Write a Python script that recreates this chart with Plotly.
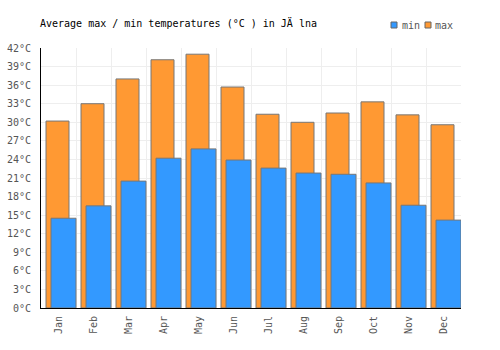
import plotly.graph_objects as go

months = ["Jan", "Feb", "Mar", "Apr", "May", "Jun", "Jul", "Aug", "Sep", "Oct", "Nov", "Dec"]
t_max = [30.2, 33.0, 37.0, 40.1, 41.0, 35.7, 31.3, 30.0, 31.5, 33.3, 31.2, 29.6]
t_min = [14.5, 16.5, 20.5, 24.2, 25.7, 23.9, 22.6, 21.8, 21.6, 20.2, 16.6, 14.2]
y_ticks = list(range(0, 43, 3))
series_names = ["min", "max"]
series_colors = ["#3399ff", "#ff9933"]

FONT = "DejaVu Sans Mono"
W, H = 500, 350
L, R, T, B = 41, 39, 48, 42
xs = list(range(len(months)))

fig = go.Figure()
fig.add_trace(go.Bar(
    x=xs, y=t_max, name=series_names[1], width=0.657, offset=-0.357,
    marker=dict(color=series_colors[1], line=dict(color="#777777", width=1)),
))
fig.add_trace(go.Bar(
    x=xs, y=t_min, name=series_names[0], width=0.714, offset=-0.214,
    marker=dict(color=series_colors[0], line=dict(color="#777777", width=1)),
))

# custom legend (paper coordinates)
pw, ph = W - L - R, H - T - B
def px_x(p):
    return (p - L) / pw
def px_y(p):
    return (H - B - p) / ph

legend_items = [(391, 400), (425, 433)]
shapes = []
annotations = []
for (sx, tx), name, col in zip(legend_items, series_names, series_colors):
    shapes.append(dict(type="rect", xref="paper", yref="paper",
                       x0=px_x(sx), x1=px_x(sx + 6), y0=px_y(28), y1=px_y(22),
                       fillcolor=col, line=dict(color="#666666", width=1)))
    annotations.append(dict(text=name, xref="paper", yref="paper",
                            x=px_x(tx), y=px_y(25), xanchor="left", yanchor="middle",
                            showarrow=False,
                            font=dict(family=FONT, size=10, color="#555555")))

fig.update_layout(
    width=W, height=H,
    margin=dict(l=L, r=R, t=T, b=B, autoexpand=False),
    paper_bgcolor="white", plot_bgcolor="white",
    barmode="overlay",
    showlegend=False,
    font=dict(family=FONT, size=10, color="#555555"),
    title=dict(text="Average max / min temperatures (°C ) in JÄ lna",
               x=40/W, xanchor="left", y=1-23/H, yanchor="middle",
               font=dict(family=FONT, size=10, color="#000000")),
    shapes=shapes,
    annotations=annotations,
)
fig.update_xaxes(
    range=[-0.5, 11.5], tickvals=xs, ticktext=months, tickangle=-90,
    showgrid=False, showline=True, linecolor="#000000", linewidth=1,
    ticks="outside", ticklen=3, tickcolor="rgba(0,0,0,0)",
    zeroline=False, automargin=False,
    minor=dict(tickvals=[i + 0.5 for i in xs], showgrid=True, gridcolor="#eeeeee", gridwidth=1),
    tickfont=dict(family=FONT, size=10, color="#555555"),
)
fig.update_yaxes(
    range=[0, 42], tickvals=y_ticks, ticktext=[f"{v}°C" for v in y_ticks],
    showgrid=True, gridcolor="#eeeeee", gridwidth=1, automargin=False,
    showline=True, linecolor="#000000", linewidth=1, zeroline=False,
    ticks="outside", ticklen=7, tickcolor="rgba(0,0,0,0)",
    tickfont=dict(family=FONT, size=10, color="#555555"),
)
fig.write_html("out.html")
